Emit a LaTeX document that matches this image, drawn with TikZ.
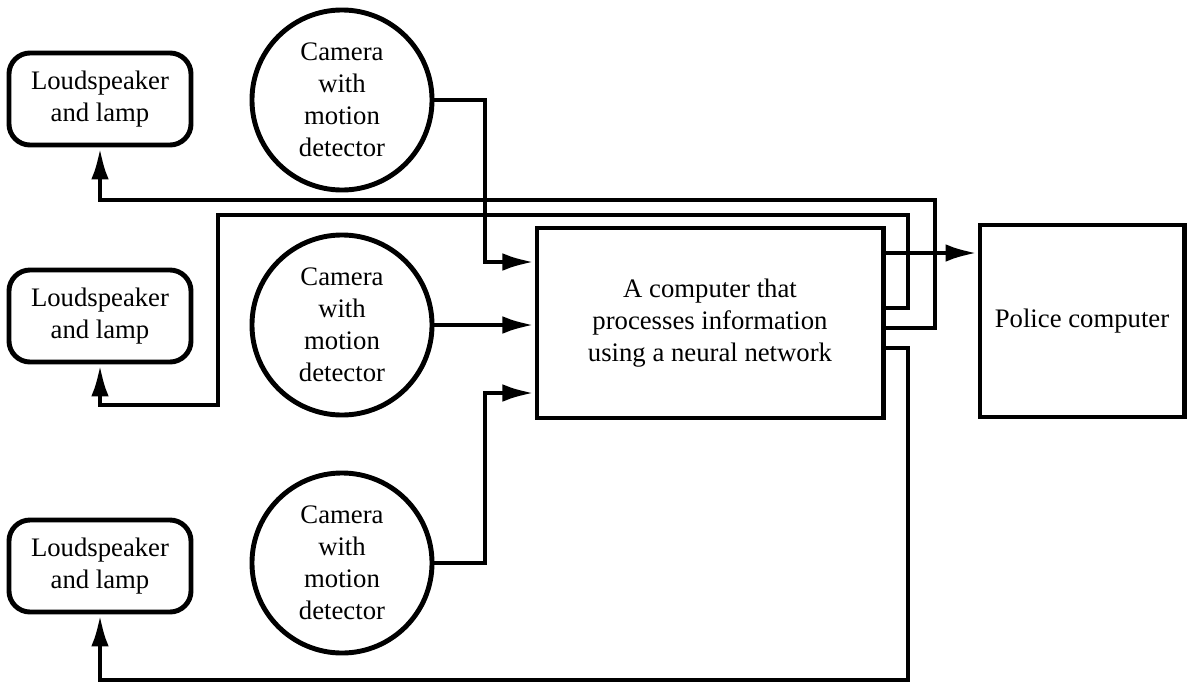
\documentclass[tikz,border=0pt]{standalone}
\usepackage{fontspec}
\setmainfont{Liberation Serif}
\usepackage{tikz}
\usetikzlibrary{arrows.meta,positioning,shapes.misc}

\begin{document}
\begin{tikzpicture}[x=0.025cm,y=-0.025cm,
  line width=3.5pt,
  every node/.style={font=\fontsize{19}{22.7}\selectfont, align=center},
  speaker/.style={draw, rounded corners=15pt, minimum width=4.55cm, minimum height=2.3cm, inner sep=0},
  camera/.style={draw, circle, minimum size=4.5cm, inner sep=0},
  box/.style={draw, inner sep=0},
  arr/.style={-{Latex[length=8mm,width=4.4mm]}}]
\useasboundingbox (0,0) rectangle (1195,684);
\node [speaker] (spk1) at (100,99) {Loudspeaker\\and lamp};
\node [speaker] (spk2) at (100,316) {Loudspeaker\\and lamp};
\node [speaker] (spk3) at (100,566) {Loudspeaker\\and lamp};
\node [camera] (cam1) at (342,100) {Camera\\with\\motion\\detector};
\node [camera] (cam2) at (342,325) {Camera\\with\\motion\\detector};
\node [camera] (cam3) at (342,563) {Camera\\with\\motion\\detector};
\node [box, minimum width=8.65cm, minimum height=4.75cm] (comp) at (710,323) {A computer that\\processes information\\using a neural network};
\node [box, minimum width=5.1cm, minimum height=4.8cm] (police) at (1082,321) {Police computer};
% cameras to computer
\draw[arr] (cam1.east) -| (485,262) -- (comp.west |- 0,262);
\draw[arr] (cam2.east) -- (comp.west |- cam2.east);
\draw[arr] (cam3.east) -| (485,393) -- (comp.west |- 0,393);
% computer outputs
\draw[arr] (comp.east |- 0,253) -- (police.west |- 0,253);
\draw[arr] (comp.east |- 0,328) -| (935,200) -| (spk1.south);
\draw[arr] (comp.east |- 0,308) -| (908,215) -| (218,405) -| (spk2.south);
\draw[arr] (comp.east |- 0,348) -| (908,680) -| (spk3.south);
\end{tikzpicture}
\end{document}
